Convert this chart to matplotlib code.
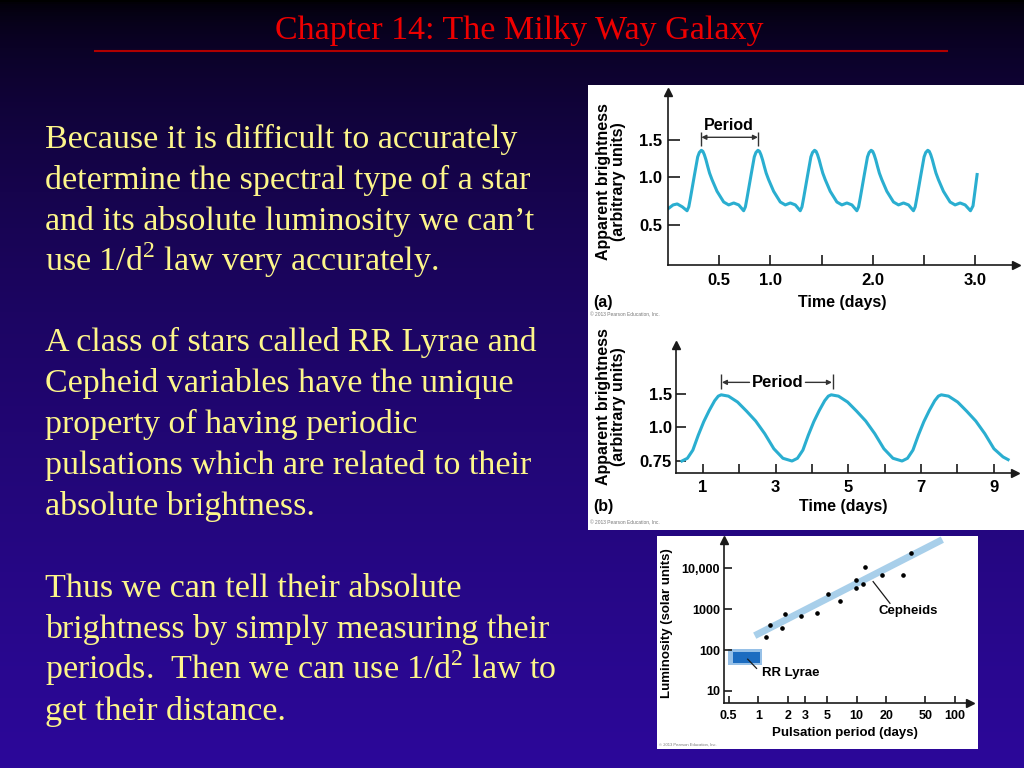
import numpy as np
import matplotlib
matplotlib.use('Agg')
import matplotlib.pyplot as plt
from matplotlib.patches import Rectangle
from matplotlib.lines import Line2D

W, H = 1024, 768

# (a) short-period variable: time (days) vs apparent brightness
curve_a_time = [0.000, 0.050, 0.090, 0.140,
                0.186, 0.203, 0.219, 0.258, 0.290, 0.306, 0.326, 0.341, 0.355, 0.371, 0.388, 0.406, 0.430, 0.479, 0.544, 0.593, 0.642, 0.691,
                0.739, 0.756, 0.772, 0.811, 0.843, 0.859, 0.879, 0.894, 0.908, 0.924, 0.941, 0.959, 0.983, 1.032, 1.097, 1.146, 1.195, 1.244,
                1.292, 1.309, 1.325, 1.364, 1.396, 1.412, 1.432, 1.447, 1.461, 1.477, 1.494, 1.512, 1.536, 1.585, 1.650, 1.699, 1.748, 1.797,
                1.845, 1.862, 1.878, 1.917, 1.949, 1.965, 1.985, 2.000, 2.014, 2.030, 2.047, 2.065, 2.089, 2.138, 2.203, 2.252, 2.301, 2.350,
                2.398, 2.415, 2.431, 2.470, 2.502, 2.518, 2.538, 2.553, 2.567, 2.583, 2.600, 2.618, 2.642, 2.691, 2.756, 2.805, 2.854, 2.903,
                2.955, 2.980, 3.000, 3.020]
curve_a_bright = [0.67, 0.71, 0.72, 0.69,
                  0.65, 0.69, 0.78, 1.02, 1.27, 1.33, 1.36, 1.345, 1.30, 1.23, 1.14, 1.05, 0.97, 0.85, 0.74, 0.71, 0.73, 0.71,
                  0.65, 0.69, 0.78, 1.02, 1.27, 1.33, 1.36, 1.345, 1.30, 1.23, 1.14, 1.05, 0.97, 0.85, 0.74, 0.71, 0.73, 0.71,
                  0.65, 0.69, 0.78, 1.02, 1.27, 1.33, 1.36, 1.345, 1.30, 1.23, 1.14, 1.05, 0.97, 0.85, 0.74, 0.71, 0.73, 0.71,
                  0.65, 0.69, 0.78, 1.02, 1.27, 1.33, 1.36, 1.345, 1.30, 1.23, 1.14, 1.05, 0.97, 0.85, 0.74, 0.71, 0.73, 0.71,
                  0.65, 0.69, 0.78, 1.02, 1.27, 1.33, 1.36, 1.345, 1.30, 1.23, 1.14, 1.05, 0.97, 0.85, 0.74, 0.71, 0.73, 0.71,
                  0.65, 0.70, 0.86, 1.03]

# (b) Cepheid: time (days) vs apparent brightness
curve_b_time = [0.42, 0.57, 0.72, 0.87, 1.02, 1.17, 1.32, 1.42, 1.50, 1.70, 1.95, 2.20, 2.45, 2.70, 2.95, 3.20,
                3.45, 3.60, 3.75, 3.90, 4.05, 4.20, 4.35, 4.45, 4.53, 4.73, 4.98, 5.23, 5.48, 5.73, 5.98, 6.23,
                6.48, 6.63, 6.78, 6.93, 7.08, 7.23, 7.38, 7.48, 7.56, 7.76, 8.01, 8.26, 8.51, 8.76, 9.01, 9.26, 9.40]
curve_b_bright = [0.75, 0.77, 0.83, 0.94, 1.08, 1.25, 1.40, 1.47, 1.49, 1.47, 1.38, 1.24, 1.09, 0.95, 0.84, 0.77,
                  0.75, 0.77, 0.83, 0.94, 1.08, 1.25, 1.40, 1.47, 1.49, 1.47, 1.38, 1.24, 1.09, 0.95, 0.84, 0.77,
                  0.75, 0.77, 0.83, 0.94, 1.08, 1.25, 1.40, 1.47, 1.49, 1.47, 1.38, 1.24, 1.09, 0.95, 0.84, 0.78, 0.76]

# (c) period-luminosity relation
ceph_period = [1.20, 1.31, 1.74, 1.87, 2.70, 3.92, 5.07, 6.77, 9.95, 9.95, 11.6, 12.2, 18.2, 29.8, 35.7]
ceph_lum = [205, 411, 340, 764, 670, 822, 2355, 1556, 5176, 3240, 4055, 10560, 6855, 6730, 23200]
trend_period = [0.92, 74.3]
trend_lum = [225, 50000]
rr_period = (0.55, 1.04)
rr_lum = (47.4, 91.6)

# uneven brightness axes of the sketch: value -> height above axis (px)
knots_a_val = [0.0, 0.5, 1.0, 1.5, 3.0]
knots_a_pos = [-8.9, 39.7, 88.3, 125.0, 235.1]
knots_b_val = [0.5, 0.75, 1.0, 1.5, 3.0]
knots_b_pos = [-22.0, 12.0, 46.0, 78.7, 176.8]

para_lines = [
    (148, "Because it is difficult to accurately"),
    (189, "determine the spectral type of a star"),
    (230, "and its absolute luminosity we can\u2019t"),
    (271, "use 1/d$^{2}$ law very accurately."),
    (351, "A class of stars called RR Lyrae and"),
    (392, "Cepheid variables have the unique"),
    (433, "property of having periodic"),
    (474, "pulsations which are related to their"),
    (515, "absolute brightness."),
    (597, "Thus we can tell their absolute"),
    (638, "brightness by simply measuring their"),
    (679, "periods.  Then we can use 1/d$^{2}$ law to"),
    (720, "get their distance."),
]

CURVE = '#2aaed0'
INK = '#1a1a1a'
plt.rcParams['font.family'] = 'Liberation Sans'
plt.rcParams['mathtext.fontset'] = 'custom'
plt.rcParams['mathtext.rm'] = 'Liberation Serif'


def fx(px):
    return px / W


def fy(py):
    return 1 - py / H


fig = plt.figure(figsize=(W / 100, H / 100), dpi=100)

# background gradient
bg = fig.add_axes([0, 0, 1, 1], zorder=-3)
t = np.linspace(0, 1, 384)[:, None, None]
bottom = np.array([44, 8, 154]) / 255.0
bg.imshow(np.sqrt(t) * bottom[None, None, :], aspect='auto', extent=[0, 1, 0, 1])
bg.axis('off')

# white figure boxes
fig.add_artist(Rectangle((fx(588), fy(530)), 436 / W, 445 / H, transform=fig.transFigure,
                         facecolor='white', edgecolor='none', zorder=-2))
fig.add_artist(Rectangle((fx(657), fy(749)), 321 / W, 213 / H, transform=fig.transFigure,
                         facecolor='white', edgecolor='none', zorder=-2))

# title
fig.text(fx(519), fy(39), 'Chapter 14: The Milky Way Galaxy', ha='center', va='baseline',
         fontsize=24.5, color='#ee0000', family='Liberation Serif')
fig.add_artist(Line2D([fx(95), fx(947)], [fy(50.5), fy(50.5)], transform=fig.transFigure,
                      color='#b00000', lw=1.5))

# body text
for y, line in para_lines:
    fig.text(fx(45), fy(y), line, ha='left', va='baseline', fontsize=24.5,
             color='#fdf68a', family='Liberation Serif')


def style_axes(ax, xlen, ylen):
    ax.set_facecolor('none')
    for s in ('top', 'right'):
        ax.spines[s].set_visible(False)
    for s in ('left', 'bottom'):
        ax.spines[s].set_linewidth(1.2)
        ax.spines[s].set_color(INK)
    ax.tick_params(axis='x', direction='in', length=xlen, width=1.2, color=INK)
    ax.tick_params(axis='y', direction='in', length=ylen, width=1.2, color=INK)
    ax.tick_params(which='minor', length=0)
    ax.plot([0], [1], marker='^', ms=6, color=INK, transform=ax.transAxes, clip_on=False)
    ax.plot([1], [0], marker='>', ms=6, color=INK, transform=ax.transAxes, clip_on=False)


def piecewise(vals, pos):
    return (lambda v: np.interp(v, vals, pos), lambda p: np.interp(p, pos, vals))


# ---- panel (a)
ax_a = fig.add_axes([fx(668), fy(265), (1016 - 668) / W, (265 - 92) / H])
ax_a.set_yscale('function', functions=piecewise(knots_a_val, knots_a_pos))
ax_a.set_xlim(0, 3.40)
ax_a.set_ylim(0.092, 2.154)
ax_a.plot(curve_a_time, curve_a_bright, color=CURVE, lw=2.2)
style_axes(ax_a, 7, 8.5)
ax_a.set_xticks([0.5, 1.0, 1.5, 2.0, 2.5, 3.0], ['0.5', '1.0', '', '2.0', '', '3.0'])
ax_a.set_yticks([0.5, 1.0, 1.5], ['0.5', '1.0', '1.5'])
ax_a.tick_params(axis='x', pad=6, labelsize=12)
ax_a.tick_params(axis='y', pad=4, labelsize=12)
for lab in ax_a.get_xticklabels() + ax_a.get_yticklabels():
    lab.set_fontweight('bold')
ax_a.annotate('', xy=(0.326, 1.537), xytext=(0.879, 1.537),
              arrowprops=dict(arrowstyle='<|-|>', mutation_scale=7, lw=1, color='#333', shrinkA=0, shrinkB=0))
ax_a.vlines([0.326, 0.879], 1.42, 1.61, color='#333', lw=1)
ax_a.text(0.592, 1.704, 'Period', ha='center', va='center', fontsize=11.5, fontweight='bold')
fig.text(fx(842), fy(302), 'Time (days)', ha='center', va='center', fontsize=11.5, fontweight='bold')
fig.text(fx(611), fy(182), 'Apparent brightness\n(arbitrary units)', rotation=90, ha='center', va='center',
         multialignment='center', fontsize=11.5, fontweight='bold', linespacing=1.05)
fig.text(fx(593), fy(302), '(a)', ha='left', va='center', fontsize=11.5, fontweight='bold')
fig.text(fx(590), fy(315), '\u00a9 2013 Pearson Education, Inc.', ha='left', va='center', fontsize=3.5, color='#777777')

# ---- panel (b)
ax_b = fig.add_axes([fx(676), fy(473), (1015 - 676) / W, (473 - 345) / H])
ax_b.set_yscale('function', functions=piecewise(knots_b_val, knots_b_pos))
ax_b.set_xlim(0.256, 9.59)
ax_b.set_ylim(0.662, 2.25)
ax_b.plot(curve_b_time, curve_b_bright, color=CURVE, lw=2.2)
style_axes(ax_b, 6.5, 7)
ax_b.set_xticks(range(1, 10), ['1', '', '3', '', '5', '', '7', '', '9'])
ax_b.set_yticks([0.75, 1.0, 1.5], ['0.75', '1.0', '1.5'])
ax_b.tick_params(axis='x', pad=5, labelsize=12)
ax_b.tick_params(axis='y', pad=3, labelsize=12)
for lab in ax_b.get_xticklabels() + ax_b.get_yticklabels():
    lab.set_fontweight('bold')
ax_b.vlines([1.50, 4.57], 1.58, 1.80, color='#333', lw=1)
ax_b.annotate('', xy=(1.52, 1.68), xytext=(2.28, 1.68),
              arrowprops=dict(arrowstyle='-|>', mutation_scale=7, lw=1, color='#333', shrinkA=0, shrinkB=0))
ax_b.annotate('', xy=(4.55, 1.68), xytext=(3.82, 1.68),
              arrowprops=dict(arrowstyle='-|>', mutation_scale=7, lw=1, color='#333', shrinkA=0, shrinkB=0))
ax_b.text(3.05, 1.68, 'Period', ha='center', va='center', fontsize=12, fontweight='bold')
fig.text(fx(843), fy(507), 'Time (days)', ha='center', va='center', fontsize=11.5, fontweight='bold')
fig.text(fx(611), fy(407), 'Apparent brightness\n(arbitrary units)', rotation=90, ha='center', va='center',
         multialignment='center', fontsize=11.5, fontweight='bold', linespacing=1.05)
fig.text(fx(593), fy(507), '(b)', ha='left', va='center', fontsize=11.5, fontweight='bold')
fig.text(fx(590), fy(523), '\u00a9 2013 Pearson Education, Inc.', ha='left', va='center', fontsize=3.5, color='#777777')

# ---- panel (c)
ax_c = fig.add_axes([fx(724), fy(703), (970 - 724) / W, (703 - 540) / H])
ax_c.set_xscale('log')
ax_c.set_yscale('log')
ax_c.set_xlim(0.448, 142)
ax_c.set_ylim(5.09, 49000)
ax_c.plot(trend_period, trend_lum, color='#a8cfea', lw=5, solid_capstyle='butt', clip_on=False)
ax_c.plot(ceph_period, ceph_lum, 'o', color='black', ms=2.3)
ax_c.add_patch(Rectangle((rr_period[0] * 0.9, rr_lum[0] * 0.9), rr_period[1] * 1.06 - rr_period[0] * 0.9,
                         rr_lum[1] * 1.13 - rr_lum[0] * 0.9, facecolor='#6aa6de', edgecolor='none', alpha=0.7))
ax_c.add_patch(Rectangle((rr_period[0], rr_lum[0]), rr_period[1] - rr_period[0], rr_lum[1] - rr_lum[0],
                         facecolor='#1c6cc0', edgecolor='none'))
ax_c.plot([0.78, 0.96], [60, 35.7], color=INK, lw=0.9)
ax_c.text(1.08, 27, 'RR Lyrae', ha='left', va='center', fontsize=9.5, fontweight='bold')
ax_c.plot([14.7, 21.8], [4710, 1390], color=INK, lw=0.9)
ax_c.text(33.5, 904, 'Cepheids', ha='center', va='center', fontsize=9.5, fontweight='bold')
style_axes(ax_c, 5, 6)
ax_c.set_xticks([0.5, 1, 2, 3, 5, 10, 20, 50, 100], ['0.5', '1', '2', '3', '5', '10', '20', '50', '100'])
ax_c.set_yticks([10, 100, 1000, 10000], ['10', '100', '1000', '10,000'])
ax_c.tick_params(axis='x', pad=5, labelsize=9)
ax_c.tick_params(axis='y', pad=3, labelsize=9)
for lab in ax_c.get_xticklabels() + ax_c.get_yticklabels():
    lab.set_fontweight('bold')
fig.text(fx(845), fy(733), 'Pulsation period (days)', ha='center', va='center', fontsize=9.5, fontweight='bold')
fig.text(fx(667), fy(623), 'Luminosity (solar units)', rotation=90, ha='center', va='center',
         fontsize=9.5, fontweight='bold')
fig.text(fx(659), fy(745), '\u00a9 2013 Pearson Education, Inc.', ha='left', va='center', fontsize=3, color='#777777')

fig.savefig('out.png', dpi=100)
